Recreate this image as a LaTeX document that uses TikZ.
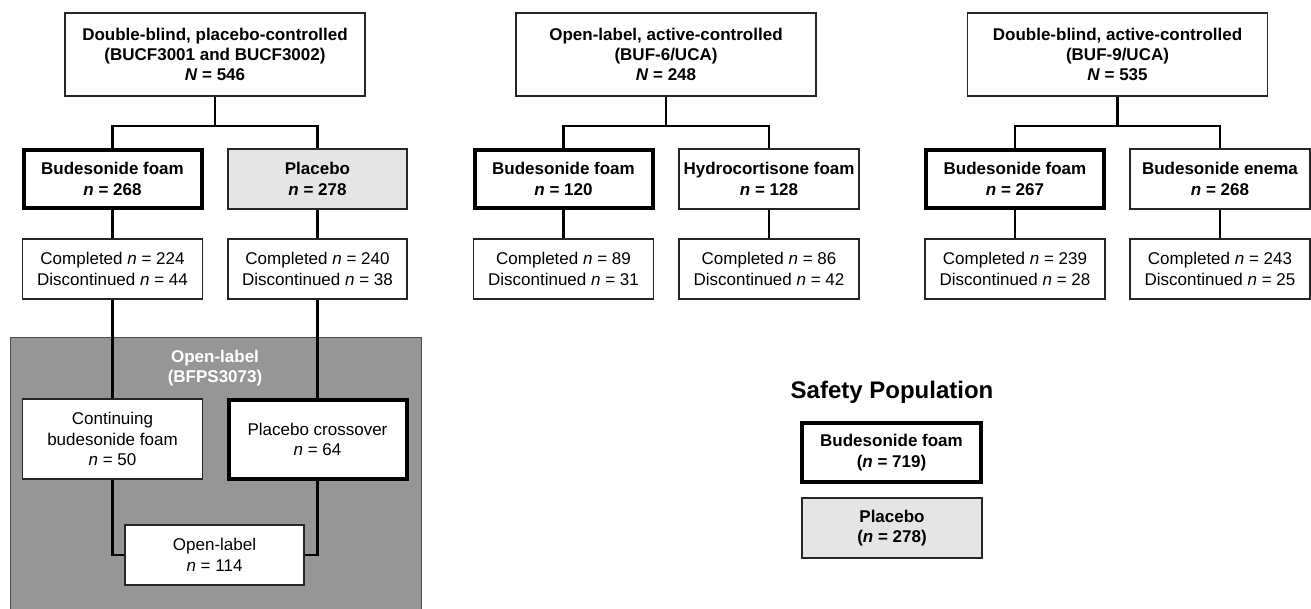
\documentclass[tikz,border=0pt]{standalone}
\usepackage{fontspec}
\setmainfont{Liberation Sans}
\begin{document}
\begin{tikzpicture}[x=1pt,y=-1pt,
  every node/.style={font=\fontsize{17}{20.4}\selectfont, align=center, inner sep=0pt},
  thinbox/.style={draw=black!85, line width=1.4pt, fill=white, minimum width=180pt, minimum height=60pt},
  thickbox/.style={draw=black, line width=4pt, fill=white, minimum width=178pt, minimum height=58pt},
  graybox/.style={thinbox, fill=black!10},
  conn/.style={draw=black, line width=2.3pt},
  panel/.style={fill=black!41, draw=black!70, line width=1pt}]
\useasboundingbox (0,0) rectangle (1311,608);
\fill[white] (0,0) rectangle (1311,608);

% ---------- Panel 1 ----------
\filldraw[panel] (10,612) -- (10,337) -- (421,337) -- (421,612);
\node[text=white] (oltitle) at (215,368) {\textbf{Open-label}\\\textbf{(BFPS3073)}};

\node[thinbox, minimum width=300pt, minimum height=83pt] (top1) at (215,54.5)
  {\textbf{Double-blind, placebo-controlled}\\\textbf{(BUCF3001 and BUCF3002)}\\\textbf{\textit{N} = 546}};
\coordinate (j1) at (215,126);
\node[thickbox] (bf1) at (112.5,179) {\textbf{Budesonide foam}\\\textbf{\textit{n} = 268}};
\node[graybox, minimum width=179pt] (pl1) at (317.5,179) {\textbf{Placebo}\\\textbf{\textit{n} = 278}};
\node[thinbox] (c1a) at (112.5,269) {Completed \textit{n} = 224\\Discontinued \textit{n} = 44};
\node[thinbox, minimum width=179pt] (c1b) at (317.5,269) {Completed \textit{n} = 240\\Discontinued \textit{n} = 38};
\node[thinbox, minimum height=80pt] (cont) at (112.5,439) {Continuing\\budesonide foam\\\textit{n} = 50};
\node[thickbox, minimum height=79pt] (pcross) at (317.5,439.5) {Placebo crossover\\\textit{n} = 64};
\node[thinbox, minimum width=179pt] (ol) at (214.5,555) {Open-label\\\textit{n} = 114};

\draw[conn] (top1.south) -- (j1);
\draw[conn] (j1) -| (bf1.north);
\draw[conn] (j1) -| (pl1.north);
\draw[conn] (bf1.south) -- (c1a.north);
\draw[conn] (pl1.south) -- (c1b.north);
\draw[conn] (c1a.south) -- (cont.north);
\draw[conn] (c1b.south) -- (pcross.north);
\draw[conn] (cont.south) |- (ol.west);
\draw[conn] (pcross.south) |- (ol.east);

% ---------- Panel 2 ----------
\node[thinbox, minimum width=300pt, minimum height=83pt] (top2) at (666,54.5)
  {\textbf{Open-label, active-controlled}\\\textbf{(BUF-6/UCA)}\\\textbf{\textit{N} = 248}};
\coordinate (j2) at (666,126);
\node[thickbox] (bf2) at (563.5,179) {\textbf{Budesonide foam}\\\textbf{\textit{n} = 120}};
\node[thinbox] (hc2) at (769,179) {\textbf{Hydrocortisone foam}\\\textbf{\textit{n} = 128}};
\node[thinbox] (c2a) at (563.5,269) {Completed \textit{n} = 89\\Discontinued \textit{n} = 31};
\node[thinbox] (c2b) at (769,269) {Completed \textit{n} = 86\\Discontinued \textit{n} = 42};
\draw[conn] (top2.south) -- (j2);
\draw[conn] (j2) -| (bf2.north);
\draw[conn] (j2) -| (hc2.north);
\draw[conn] (bf2.south) -- (c2a.north);
\draw[conn] (hc2.south) -- (c2b.north);

% ---------- Panel 3 ----------
\node[thinbox, minimum width=300pt, minimum height=83pt] (top3) at (1117.5,54.5)
  {\textbf{Double-blind, active-controlled}\\\textbf{(BUF-9/UCA)}\\\textbf{\textit{N} = 535}};
\coordinate (j3) at (1117.5,126);
\node[thickbox] (bf3) at (1015,179) {\textbf{Budesonide foam}\\\textbf{\textit{n} = 267}};
\node[thinbox] (en3) at (1220,179) {\textbf{Budesonide enema}\\\textbf{\textit{n} = 268}};
\node[thinbox] (c3a) at (1015,269) {Completed \textit{n} = 239\\Discontinued \textit{n} = 28};
\node[thinbox] (c3b) at (1220,269) {Completed \textit{n} = 243\\Discontinued \textit{n} = 25};
\draw[conn] (top3.south) -- (j3);
\draw[conn] (j3) -| (bf3.north);
\draw[conn] (j3) -| (en3.north);
\draw[conn] (bf3.south) -- (c3a.north);
\draw[conn] (en3.south) -- (c3b.north);

% ---------- Safety population ----------
\node[font=\fontsize{24}{28}\selectfont\bfseries] (stitle) at (892,392) {Safety Population};
\node[thickbox, minimum width=179pt, minimum height=59pt] (sbf) at (891.5,452.5) {\textbf{Budesonide foam}\\\textbf{(\textit{n} = 719)}};
\node[graybox] (spl) at (892,528) {\textbf{Placebo}\\\textbf{(\textit{n} = 278)}};
\end{tikzpicture}
\end{document}
